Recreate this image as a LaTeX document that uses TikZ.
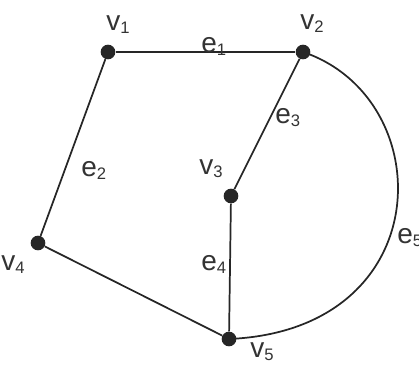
\documentclass[tikz,border=0pt]{standalone}
\usepackage{fontspec}
\setmainfont{Liberation Sans}
\newcommand{\lblsub}[2]{#1\raisebox{-0.12em}{\fontsize{12.5}{14}\selectfont #2}}
\tikzset{
  vtx/.style={circle,fill=black!85,inner sep=0pt,minimum size=11pt},
  edge/.style={line width=1.3pt,black!85},
  lbl/.style={inner sep=0pt,anchor=base west,font=\fontsize{21}{24}\selectfont,text=black!80}
}
\begin{document}
\begin{tikzpicture}[x=0.75pt,y=-0.75pt]
\useasboundingbox (0,0) rectangle (419,365);
\node[vtx] (v1) at (108,52) {};
\node[vtx] (v2) at (303,52) {};
\node[vtx] (v3) at (231,196) {};
\node[vtx] (v4) at (38,243) {};
\node[vtx] (v5) at (229,339) {};
\draw[edge] (v1) -- (v2);
\draw[edge] (v1) -- (v4);
\draw[edge] (v2) -- (v3);
\draw[edge] (v3) -- (v5);
\draw[edge] (v4) -- (v5);
\draw[edge] (v2.center) .. controls (440,98) and (440,330) .. (v5.center);
\node[lbl] (lv1) at (106,30) {\lblsub{v}{1}};
\node[lbl] (lv2) at (300,29) {\lblsub{v}{2}};
\node[lbl] (lv3) at (199,174) {\lblsub{v}{3}};
\node[lbl] (lv4) at (1,270) {\lblsub{v}{4}};
\node[lbl] (lv5) at (250,357) {\lblsub{v}{5}};
\node[lbl] (le1) at (201,52) {\lblsub{e}{1}};
\node[lbl] (le2) at (81,176) {\lblsub{e}{2}};
\node[lbl] (le3) at (275,123) {\lblsub{e}{3}};
\node[lbl] (le4) at (201,270) {\lblsub{e}{4}};
\node[lbl] (le5) at (397,243) {\lblsub{e}{5}};
\end{tikzpicture}
\end{document}
